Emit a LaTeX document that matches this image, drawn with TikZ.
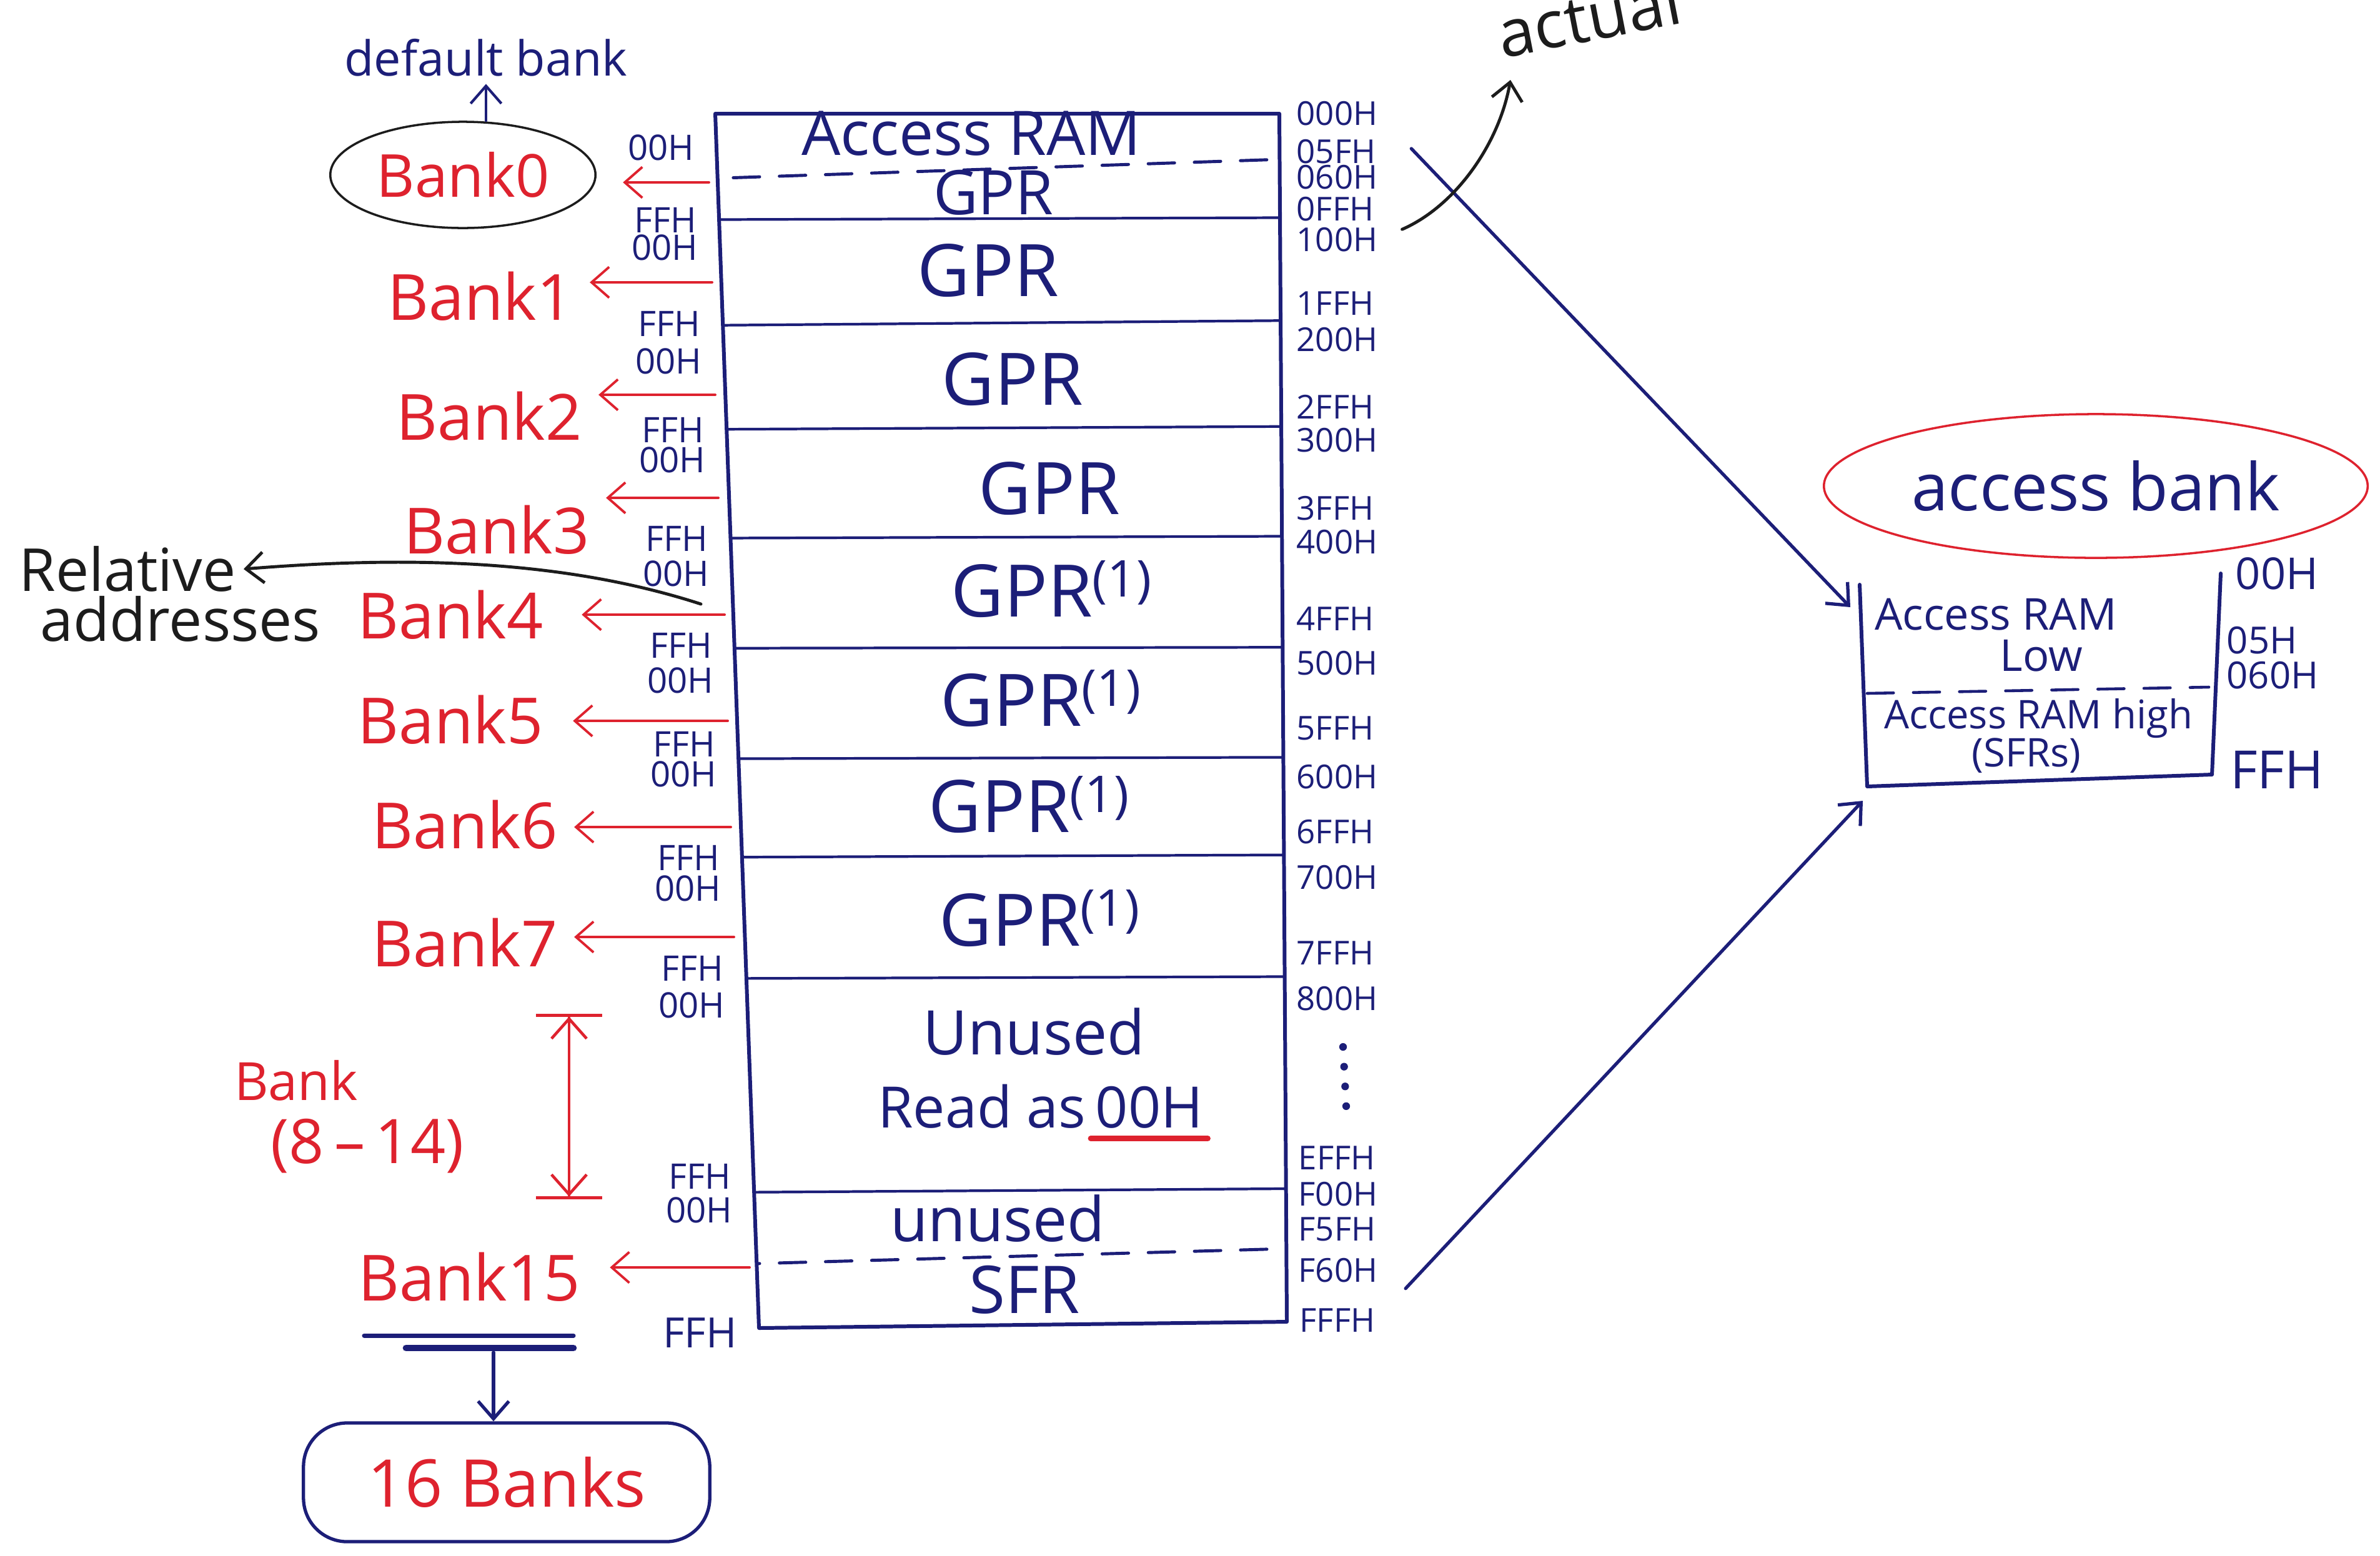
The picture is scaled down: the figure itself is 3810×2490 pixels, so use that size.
\documentclass[tikz,border=0pt]{standalone}
\usepackage{fontspec}
\setmainfont{Open Sans}
\usetikzlibrary{arrows.meta,shapes.geometric}
\definecolor{ink}{RGB}{28,30,120}
\definecolor{redink}{RGB}{222,34,46}
\definecolor{pencil}{RGB}{28,28,28}
\tikzset{
  box/.style={draw=ink,line width=1.7pt},
  rowline/.style={draw=ink,line width=1.2pt},
  halfline/.style={draw=ink,line width=1.4pt,dash pattern=on 12pt off 9pt},
  cell/.style={text=ink,inner sep=2pt,font=\fontsize{33}{33}\selectfont},
  addr/.style={text=ink,inner sep=0pt,anchor=west,font=\fontsize{15}{15}\selectfont},
  reladdr/.style={text=ink,inner sep=0pt,anchor=east,font=\fontsize{16}{16}\selectfont},
  banklbl/.style={text=redink,font=\fontsize{29}{29}\selectfont},
  bankarrow/.style={draw=redink,line width=1.1pt,->,shorten >=4pt},
  inkarrow/.style={draw=ink,line width=1.5pt,->},
  pencilarrow/.style={draw=pencil,line width=1.4pt,->},
}
\begin{document}
\begin{tikzpicture}[x=0.01cm,y=-0.01cm,line cap=round,line join=round,>={Straight Barb[length=8pt,width=14pt]}]
  \useasboundingbox (0,0) rectangle (3810,2490);
  \begin{scope}
    \clip (1145,182) -- (2048,182) -- (2060,2116) -- (1215,2126) -- cycle;
    \draw[rowline] (1000,352) -- (2200,348);
    \draw[rowline] (1000,522) -- (2200,512);
    \draw[rowline] (1000,688) -- (2200,682);
    \draw[rowline] (1000,862) -- (2200,858);
    \draw[rowline] (1000,1038) -- (2200,1036);
    \draw[rowline] (1000,1215) -- (2200,1212);
    \draw[rowline] (1000,1373) -- (2200,1368);
    \draw[rowline] (1000,1567) -- (2200,1563);
    \draw[rowline] (1000,1910) -- (2200,1902);
    \draw[halfline] (1100,287) -- (2200,250);
    \draw[halfline] (1100,2026) -- (2200,1995);
  \end{scope}
  \draw[box] (1145,182) -- (2048,182) -- (2060,2116) -- (1215,2126) -- cycle;
  \node[cell,font=\fontsize{28}{28}\selectfont] (accram) at (1555,214) {Access RAM};
  \node[cell,font=\fontsize{28}{28}\selectfont] (gpr0) at (1590,308) {GPR};
  \node[cell] (gpr1) at (1582,433) {GPR};
  \node[cell] (gpr2) at (1621,607) {GPR};
  \node[cell] (gpr3) at (1680,782) {GPR};
  \node[cell] (gpr4) at (1684,943) {GPR\textsuperscript{(1)}};
  \node[cell] (gpr5) at (1667,1118) {GPR\textsuperscript{(1)}};
  \node[cell] (gpr6) at (1648,1288) {GPR\textsuperscript{(1)}};
  \node[cell] (gpr7) at (1665,1470) {GPR\textsuperscript{(1)}};
  \node[cell,font=\fontsize{28}{28}\selectfont] (unused1) at (1655,1652) {Unused};
  \node[cell,font=\fontsize{26}{26}\selectfont,anchor=base east] (readas) at (1746,1805) {Read as};
  \node[cell,font=\fontsize{26}{26}\selectfont,anchor=base west] (zeroh) at (readas.base east) {00H};
  \draw[redink,line width=2.5pt] ([yshift=-5pt]zeroh.base west) -- ([yshift=-5pt]zeroh.base east);
  \node[cell,font=\fontsize{28}{28}\selectfont] (unused2) at (1597,1951) {unused};
  \node[cell,font=\fontsize{30}{30}\selectfont] (sfr) at (1640,2065) {SFR};
  \node[addr] (a000) at (2075,182) {000H};
  \node[addr] (a05F) at (2075,243) {05FH};
  \node[addr] (a060) at (2075,284) {060H};
  \node[addr] (a0FF) at (2075,335) {0FFH};
  \node[addr] (a100) at (2075,384) {100H};
  \node[addr] (a1FF) at (2075,486) {1FFH};
  \node[addr] (a200) at (2075,544) {200H};
  \node[addr] (a2FF) at (2075,651) {2FFH};
  \node[addr] (a300) at (2075,705) {300H};
  \node[addr] (a3FF) at (2075,814) {3FFH};
  \node[addr] (a400) at (2075,868) {400H};
  \node[addr] (a4FF) at (2075,991) {4FFH};
  \node[addr] (a500) at (2075,1062) {500H};
  \node[addr] (a5FF) at (2075,1166) {5FFH};
  \node[addr] (a600) at (2075,1244) {600H};
  \node[addr] (a6FF) at (2075,1332) {6FFH};
  \node[addr] (a700) at (2075,1405) {700H};
  \node[addr] (a7FF) at (2075,1526) {7FFH};
  \node[addr] (a800) at (2075,1599) {800H};
  \draw[ink,line width=3.5pt,dash pattern=on 0pt off 9pt] (2150,1676) -- (2156,1790);
  \node[addr] (aEFF) at (2078,1854) {EFFH};
  \node[addr] (aF00) at (2078,1912) {F00H};
  \node[addr] (aF5F) at (2078,1968) {F5FH};
  \node[addr] (aF60) at (2078,2034) {F60H};
  \node[addr] (aFFF) at (2080,2114) {FFFH};
  \node[reladdr] (lo0) at (1112,236) {00H};
  \node[reladdr] (hi0) at (1116,352) {FFH};
  \node[reladdr] (lo1) at (1118,396) {00H};
  \node[reladdr] (hi1) at (1122,518) {FFH};
  \node[reladdr] (lo2) at (1124,578) {00H};
  \node[reladdr] (hi2) at (1128,688) {FFH};
  \node[reladdr] (lo3) at (1130,736) {00H};
  \node[reladdr] (hi3) at (1134,862) {FFH};
  \node[reladdr] (lo4) at (1136,918) {00H};
  \node[reladdr] (hi4) at (1141,1033) {FFH};
  \node[reladdr] (lo5) at (1143,1089) {00H};
  \node[reladdr] (hi5) at (1146,1191) {FFH};
  \node[reladdr] (lo6) at (1148,1239) {00H};
  \node[reladdr] (hi6) at (1153,1373) {FFH};
  \node[reladdr] (lo7) at (1155,1422) {00H};
  \node[reladdr] (hi7) at (1159,1550) {FFH};
  \node[reladdr] (lo8) at (1161,1609) {00H};
  \node[reladdr] (hi14) at (1171,1883) {FFH};
  \node[reladdr] (lo15) at (1173,1937) {00H};
  \node[reladdr,font=\fontsize{19}{19}\selectfont] (hi15) at (1180,2134) {FFH};
  \node[banklbl,ellipse,draw=pencil,line width=1pt,minimum width=3.2cm,minimum height=1.7cm,font=\fontsize{27}{27}\selectfont] (bank0) at (741,280) {Bank0};
  \node[text=ink,font=\fontsize{22}{22}\selectfont] (defbank) at (778,92) {default bank};
  \draw[draw=ink,line width=1.2pt,->] (defbank.south |- bank0.north) -- (defbank.south);
  \node[banklbl] (bank1) at (769,474) {Bank1};
  \node[banklbl] (bank2) at (783,666) {Bank2};
  \node[banklbl] (bank3) at (795,848) {Bank3};
  \node[banklbl] (bank4) at (721,984) {Bank4};
  \node[banklbl] (bank5) at (721,1152) {Bank5};
  \node[banklbl] (bank6) at (744,1320) {Bank6};
  \node[banklbl] (bank7) at (744,1509) {Bank7};
  \node[banklbl] (bank15) at (751,2044) {Bank15};
  \coordinate (e0) at (1135,292);
  \coordinate (e1) at (1140,452);
  \coordinate (e2) at (1145,632);
  \coordinate (e3) at (1150,797);
  \coordinate (e4) at (1160,984);
  \coordinate (e5) at (1165,1154);
  \coordinate (e6) at (1170,1324);
  \coordinate (e7) at (1175,1500);
  \coordinate (e15) at (1200,2029);
  \draw[bankarrow,shorten >=12pt] (e0) -- (e0 -| bank0.east);
  \draw[bankarrow] (e1) -- (e1 -| bank1.east);
  \draw[bankarrow] (e2) -- (e2 -| bank2.east);
  \draw[bankarrow] (e3) -- (e3 -| bank3.east);
  \draw[bankarrow,shorten >=14pt] (e4) -- (e4 -| bank4.east);
  \draw[bankarrow,shorten >=10pt] (e5) -- (e5 -| bank5.east);
  \draw[bankarrow] (e6) -- (e6 -| bank6.east);
  \draw[bankarrow] (e7) -- (e7 -| bank7.east);
  \draw[bankarrow,shorten >=10pt] (e15) -- (e15 -| bank15.east);
  \node[text=pencil,font=\fontsize{27}{27}\selectfont] (rel1) at (204,911) {Relative};
  \node[text=pencil,font=\fontsize{27}{27}\selectfont] (rel2) at (289,991) {addresses};
  \coordinate (relstart) at (1122,967);
  \draw[pencilarrow] (relstart) .. controls (900,895) and (650,890) .. (rel1.east);
  \node[text=redink,font=\fontsize{24}{24}\selectfont] (bank814a) at (474,1730) {Bank};
  \node[text=redink,font=\fontsize{28}{28}\selectfont] (bank814b) at (588,1835) {(8\,--\,14)};
  \coordinate (rtop) at (911,1623);
  \coordinate (rbot) at (911,1920);
  \draw[redink,line width=1.3pt,{Bar[width=30pt]Straight Barb[length=9pt,width=16pt]}-{Straight Barb[length=9pt,width=16pt]Bar[width=30pt]}] (rtop) -- (rbot);
  \draw[ink,line width=2pt] (583,2138) -- (918,2138);
  \draw[ink,line width=3pt] (650,2158) -- (918,2158);
  \node[draw=ink,line width=1.5pt,rounded corners=0.7cm,minimum width=6.5cm,minimum height=1.9cm,text=redink,font=\fontsize{30}{30}\selectfont] (banks16) at (811,2373) {16 Banks};
  \coordinate (ulmid) at (790,2165);
  \draw[inkarrow] (ulmid) -- (ulmid |- banks16.north);
  \node[ellipse,draw=redink,line width=1pt,minimum width=8.7cm,minimum height=2.3cm,text=ink,font=\fontsize{30}{30}\selectfont] (accbank) at (3355,778) {access bank};
  \draw[box] (2977,936) -- (2989,1259) -- (3541,1240) -- (3555,918);
  \draw[halfline,line width=1.3pt] (2989,1110) -- (3536,1100);
  \node[text=ink,inner sep=0pt,font=\fontsize{20}{20}\selectfont] (abram) at (3195,984) {Access RAM};
  \node[text=ink,inner sep=0pt,font=\fontsize{20}{20}\selectfont] (ablow) at (3268,1050) {Low};
  \node[text=ink,inner sep=0pt,font=\fontsize{18}{18}\selectfont] (abhigh) at (3263,1150) {Access RAM high};
  \node[text=ink,inner sep=0pt,font=\fontsize{18}{18}\selectfont] (absfr) at (3244,1210) {(SFRs)};
  \node[text=ink,inner sep=0pt,font=\fontsize{20}{20}\selectfont] (ab00) at (3645,918) {00H};
  \node[text=ink,inner sep=0pt,font=\fontsize{17}{17}\selectfont] (ab05) at (3621,1025) {05H};
  \node[text=ink,inner sep=0pt,font=\fontsize{17}{17}\selectfont] (ab60) at (3638,1081) {060H};
  \node[text=ink,inner sep=0pt,font=\fontsize{24}{24}\selectfont] (abff) at (3645,1232) {FFH};
  \coordinate (abin1) at (2962,972);
  \coordinate (abin2) at (2982,1282);
  \draw[inkarrow,shorten <=22pt] (a000.east) -- (abin1);
  \draw[inkarrow,shorten <=20pt] (aFFF.east) -- (abin2);
  \coordinate (actualtip) at (2418,128);
  \draw[pencilarrow,shorten <=12pt] (a100.east) .. controls (2330,330) and (2400,230) .. (actualtip);
  \node[text=pencil,anchor=south west,rotate=11,inner sep=0pt,font=\fontsize{30}{30}\selectfont] (actual) at (2405,95) {actual};
\end{tikzpicture}
\end{document}
